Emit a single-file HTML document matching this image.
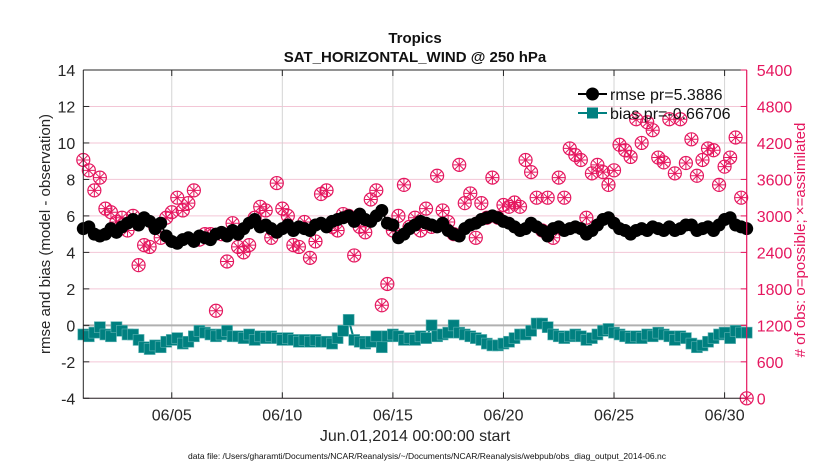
<!DOCTYPE html>
<html><head><meta charset="utf-8"><style>
body{margin:0;background:#fff;}
svg{display:block;font-family:"Liberation Sans",sans-serif;}
</style></head><body>
<svg id="chart" width="830" height="470" viewBox="0 0 830 470" xmlns="http://www.w3.org/2000/svg">
<text x="415" y="43" text-anchor="middle" font-size="15" font-weight="bold" fill="#111">Tropics</text>
<text x="415" y="62" text-anchor="middle" font-size="15" font-weight="bold" fill="#111">SAT_HORIZONTAL_WIND @ 250 hPa</text>
<g id="grid"></g>
<g id="series"></g>
<g id="axes"></g>
<text transform="translate(50,234) rotate(-90)" text-anchor="middle" font-size="15" fill="#262626">rmse and bias (model - observation)</text>
<text transform="translate(805,240) rotate(-90)" text-anchor="middle" font-size="15" fill="#e5175f"># of obs: o=possible; ×=assimilated</text>
<text x="415" y="441" text-anchor="middle" font-size="16" fill="#262626">Jun.01,2014 00:00:00 start</text>
<text x="427" y="459" text-anchor="middle" font-size="8.5" fill="#111">data file: /Users/gharamti/Documents/NCAR/Reanalysis/~/Documents/NCAR/Reanalysis/webpub/obs_diag_output_2014-06.nc</text>
<g id="legend"></g>
</svg>
<script>
const rmse=[5.3,5.4,5.0,4.9,5.0,5.3,5.1,5.4,5.6,5.8,
5.5,5.9,5.7,5.3,5.6,4.9,4.6,4.5,4.7,4.8,
4.6,4.9,4.8,4.7,5.0,5.1,4.9,5.2,5.0,5.3,
5.6,5.8,5.4,5.5,5.3,5.1,5.3,5.5,5.2,5.4,
5.3,5.2,5.5,5.6,5.4,5.7,5.8,5.9,6.0,5.7,
6.1,5.8,5.7,6.0,6.3,5.6,5.5,4.8,5.0,5.3,
5.5,5.7,5.6,5.5,5.4,5.6,5.2,5.0,4.9,5.3,
5.5,5.6,5.8,5.9,6.0,5.9,5.7,5.6,5.4,5.2,
5.3,5.6,5.4,5.2,4.9,5.3,5.4,5.2,5.3,5.4,
5.3,5.0,5.2,5.5,5.8,5.9,5.6,5.3,5.2,5.0,
5.2,5.3,5.2,5.4,5.3,5.2,5.4,5.2,5.3,5.5,
5.5,5.2,5.3,5.4,5.2,5.5,5.8,5.9,5.5,5.4,5.3];
const bias=[-0.5,-0.6,-0.4,-0.1,-0.5,-0.6,-0.1,-0.3,-0.5,-0.5,
-0.8,-1.2,-1.3,-1.1,-1.2,-0.9,-0.8,-0.7,-1.0,-0.9,
-0.6,-0.3,-0.4,-0.5,-0.6,-0.5,-0.3,-0.6,-0.6,-0.7,
-0.5,-0.8,-0.6,-0.7,-0.6,-0.7,-0.8,-0.7,-0.8,-0.9,
-0.8,-0.9,-0.8,-0.9,-0.9,-1.0,-0.7,-0.3,0.3,-0.8,
-0.9,-1.0,-0.9,-0.6,-1.2,-0.6,-0.5,-0.6,-0.8,-0.7,
-0.8,-0.6,-0.7,0.0,-0.6,-0.5,-0.4,0.0,-0.4,-0.5,
-0.6,-0.7,-0.8,-1.0,-1.1,-1.1,-1.0,-0.9,-0.7,-0.5,
-0.5,-0.3,0.1,0.1,-0.1,-0.5,-0.6,-0.7,-0.6,-0.5,
-0.6,-0.8,-0.7,-0.5,-0.3,-0.2,-0.4,-0.5,-0.6,-0.7,
-0.6,-0.7,-0.5,-0.6,-0.4,-0.5,-0.6,-0.8,-0.6,-0.7,
-1.0,-1.2,-1.1,-0.9,-0.7,-0.5,-0.4,-0.7,-0.3,-0.4,-0.4];
const obsCount=[3920,3750,3420,3630,3120,3060,2900,2970,2760,3000,
2190,2520,2490,2820,2640,2970,3060,3300,3090,3210,
3420,2610,2700,2700,1440,2700,2250,2880,2490,2400,
2520,2970,3150,3090,2640,3540,3120,3000,2520,2490,
2900,2310,2580,3360,3420,2820,2760,3030,3000,2350,
2820,2730,3270,3420,1530,1880,2760,3000,3510,2820,
2970,2760,3120,2820,3660,3090,2900,2700,3840,3210,
3370,2640,3210,2970,3630,2970,3180,3150,3220,3150,
3920,3720,3300,2760,3300,2640,3630,3300,4110,4000,
3920,2970,3700,3840,3720,3510,3750,4170,4080,3970,
4590,4200,4540,4410,3960,3880,4590,3700,4590,3870,
4260,3660,3920,4110,4080,3510,3810,3960,4290,3300,0];
const xTickDays=[4,9,14,19,24,29];
const xTickLabels=["06/05","06/10","06/15","06/20","06/25","06/30"];
const yTicks=[-4,-2,0,2,4,6,8,10,12,14];
const y2Ticks=[0,600,1200,1800,2400,3000,3600,4200,4800,5400];
const legendLabels=["rmse pr=5.3886","bias pr=-0.66706"];

const NS="http://www.w3.org/2000/svg";
const L=83.3,R=746.7,T=70,B=398.3;
const xMin=0,xMax=30,yMin=-4,yMax=14,y2Max=5400;
const xs=d=>L+(d-xMin)/(xMax-xMin)*(R-L);
const ys=v=>B-(v-yMin)/(yMax-yMin)*(B-T);
const ys2=v=>B-v/y2Max*(B-T);
function mk(tag,attrs,parent){const e=document.createElementNS(NS,tag);for(const k in attrs)e.setAttribute(k,attrs[k]);parent.appendChild(e);return e;}
const grid=document.getElementById('grid'),series=document.getElementById('series'),axes=document.getElementById('axes'),legend=document.getElementById('legend');

yTicks.forEach(v=>{const g=mk('line',{x1:L,x2:R,y1:ys(v),y2:ys(v),stroke:'#f3c6d6','stroke-width':1},grid);

});
xTickDays.forEach(d=>{const g=mk('line',{x1:xs(d),x2:xs(d),y1:T,y2:B,stroke:'#d4d4d4','stroke-width':1},grid);

});
const zl=mk('line',{x1:L,x2:R,y1:ys(0),y2:ys(0),stroke:'#b0b0b0','stroke-width':2},grid);



const dayOf=(i,n)=>xMin+i*(xMax-xMin)/(n-1);
obsCount.forEach((v,i)=>{const cx=xs(dayOf(i,obsCount.length)),cy=ys2(v);
const g=mk('g',{stroke:'#e5175f','stroke-width':1,fill:'none'},series);


mk('circle',{cx:cx,cy:cy,r:6.5,'stroke-width':1.2},g);
mk('path',{d:`M${cx-6} ${cy}H${cx+6}M${cx} ${cy-6}V${cy+6}M${cx-4.3} ${cy-4.3}L${cx+4.3} ${cy+4.3}M${cx-4.3} ${cy+4.3}L${cx+4.3} ${cy-4.3}`},g);});

let p='';rmse.forEach((v,i)=>{p+=(i?'L':'M')+xs(dayOf(i,rmse.length))+' '+ys(v);});
const rl=mk('path',{d:p,stroke:'#000','stroke-width':2,fill:'none'},series);


rmse.forEach((v,i)=>{const c=mk('circle',{cx:xs(dayOf(i,rmse.length)),cy:ys(v),r:6.5,fill:'#000'},series);

});
p='';bias.forEach((v,i)=>{p+=(i?'L':'M')+xs(dayOf(i,bias.length))+' '+ys(v);});
const bl=mk('path',{d:p,stroke:'#008080','stroke-width':2,fill:'none'},series);


bias.forEach((v,i)=>{const c=mk('rect',{x:xs(dayOf(i,bias.length))-5.5,y:ys(v)-5.5,width:11,height:11,fill:'#008080',stroke:'#5fb3b3','stroke-width':0.6},series);

});

const ax=mk('path',{d:`M${L} ${T}H${R}M${L} ${T}V${B}H${R}`,stroke:'#262626','stroke-width':1,fill:'none'},axes);


const rax=mk('line',{x1:R,x2:R,y1:T,y2:B,stroke:'#e5175f','stroke-width':1.2},axes);


yTicks.forEach(v=>{mk('line',{x1:L,x2:L+6,y1:ys(v),y2:ys(v),stroke:'#262626'},axes);
const t=mk('text',{x:L-8,y:ys(v)+6,'text-anchor':'end','font-size':16,fill:'#262626'},axes);t.textContent=v;

});
y2Ticks.forEach(v=>{mk('line',{x1:R-6,x2:R,y1:ys2(v),y2:ys2(v),stroke:'#e5175f'},axes);
const t=mk('text',{x:R+10,y:ys2(v)+6,'font-size':16,fill:'#e5175f'},axes);t.textContent=v;

});
xTickDays.forEach((d,i)=>{mk('line',{x1:xs(d),x2:xs(d),y1:B,y2:B-6,stroke:'#262626'},axes);
mk('line',{x1:xs(d),x2:xs(d),y1:T,y2:T+6,stroke:'#262626'},axes);
const t=mk('text',{x:xs(d),y:B+22,'text-anchor':'middle','font-size':16,fill:'#262626'},axes);t.textContent=xTickLabels[i];

});

[[94,'#000','circle'],[113,'#008080','rect']].forEach((e,i)=>{const y=e[0];
const g=mk('g',{},legend);


mk('line',{x1:578,x2:607,y1:y,y2:y,stroke:e[1],'stroke-width':2},g);
if(e[2]==='circle')mk('circle',{cx:592.5,cy:y,r:6.5,fill:e[1]},g);
else mk('rect',{x:587,y:y-5.5,width:11,height:11,fill:e[1]},g);
const t=mk('text',{x:610,y:y+6,'font-size':16,fill:'#111'},g);t.textContent=legendLabels[i];});
</script>
</body></html>
